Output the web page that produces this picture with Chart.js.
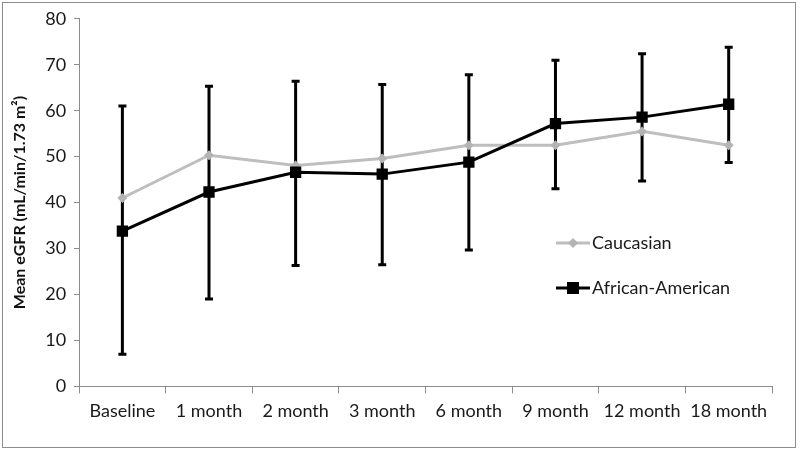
<!DOCTYPE html>
<html>
<head>
<meta charset="utf-8">
<script src="https://cdn.jsdelivr.net/npm/chart.js@4/dist/chart.umd.min.js"></script>
<style>
  html, body { margin: 0; padding: 0; background: #fff; }
  #wrap { position: relative; width: 800px; height: 453px; }
  #frame { position: absolute; left: 2px; top: 2px; width: 794px; height: 446px; border: 1px solid #8c8c8c; box-sizing: border-box; pointer-events: none; }
</style>
</head>
<body>
<div id="wrap">
  <canvas id="chart" width="800" height="453"></canvas>
  <div id="frame"></div>
</div>
<script>
const categories = ["Baseline", "1 month", "2 month", "3 month", "6 month", "9 month", "12 month", "18 month"];
const caucasian = [41.0, 50.3, 48.1, 49.6, 52.5, 52.5, 55.5, 52.5];
const africanAmerican = [33.8, 42.3, 46.6, 46.2, 48.8, 57.2, 58.6, 61.4];
const aaLow = [7.0, 19.0, 26.3, 26.5, 29.7, 43.0, 44.7, 48.7];
const aaHigh = [61.0, 65.3, 66.4, 65.7, 67.8, 71.0, 72.4, 73.8];

const FONT = "Lato, 'Open Sans', sans-serif";

// error bars for the African-American series, drawn under the lines
const errorBars = {
  id: 'errorBars',
  beforeDatasetsDraw(chart) {
    const ctx = chart.ctx, x = chart.scales.x, y = chart.scales.y;
    ctx.save();
    ctx.strokeStyle = '#000';
    ctx.lineWidth = 3;
    categories.forEach((c, i) => {
      const px = x.getPixelForValue(i);
      const top = y.getPixelForValue(aaHigh[i]);
      const bot = y.getPixelForValue(aaLow[i]);
      ctx.beginPath();
      ctx.moveTo(px, top); ctx.lineTo(px, bot);
      ctx.moveTo(px - 4, top); ctx.lineTo(px + 4, top);
      ctx.moveTo(px - 4, bot); ctx.lineTo(px + 4, bot);
      ctx.stroke();
    });
    ctx.restore();
  }
};

// legend inside the plot, like the original
const innerLegend = {
  id: 'innerLegend',
  afterDraw(chart) {
    const ctx = chart.ctx;
    ctx.save();
    ctx.font = "18px " + FONT;
    ctx.textBaseline = 'middle';
    // Caucasian
    ctx.strokeStyle = '#bebebe'; ctx.lineWidth = 3;
    ctx.beginPath(); ctx.moveTo(556, 243); ctx.lineTo(590, 243); ctx.stroke();
    ctx.fillStyle = '#b4b4b4';
    ctx.beginPath(); ctx.moveTo(573, 238); ctx.lineTo(578, 243); ctx.lineTo(573, 248); ctx.lineTo(568, 243); ctx.closePath(); ctx.fill();
    ctx.fillStyle = '#1a1a1a';
    ctx.fillText('Caucasian', 592, 243);
    // African-American
    ctx.strokeStyle = '#000';
    ctx.beginPath(); ctx.moveTo(556, 288); ctx.lineTo(590, 288); ctx.stroke();
    ctx.fillStyle = '#000';
    ctx.fillRect(567, 282, 12, 12);
    ctx.fillStyle = '#1a1a1a';
    ctx.fillText('African-American', 592, 288);
    ctx.restore();
  }
};

new Chart(document.getElementById('chart'), {
  type: 'line',
  data: {
    labels: categories,
    datasets: [
      {
        label: 'Caucasian',
        data: caucasian,
        borderColor: '#bebebe',
        backgroundColor: '#b4b4b4',
        borderWidth: 3,
        pointStyle: 'rectRot',
        pointRadius: 5,
        pointBorderWidth: 0,
        order: 1
      },
      {
        label: 'African-American',
        data: africanAmerican,
        borderColor: '#000',
        backgroundColor: '#000',
        borderWidth: 3,
        pointStyle: 'rect',
        pointRadius: 8,
        pointBorderWidth: 0,
        order: 0
      }
    ]
  },
  plugins: [errorBars, innerLegend],
  options: {
    responsive: false,
    animation: false,
    layout: { padding: { left: 10, right: 28, top: 9, bottom: 24 } },
    plugins: {
      legend: { display: false },
      tooltip: { enabled: false }
    },
    scales: {
      x: {
        offset: true,
        grid: { display: true, drawOnChartArea: false, offset: true, color: '#8c8c8c', tickLength: 7, lineWidth: 1 },
        border: { color: '#8c8c8c' },
        ticks: { color: '#1a1a1a', font: { family: FONT, size: 18 }, maxRotation: 0, padding: 7 }
      },
      y: {
        min: 0,
        max: 80,
        ticks: { stepSize: 10, color: '#1a1a1a', font: { family: FONT, size: 18 }, padding: 8 },
        grid: { display: true, drawOnChartArea: false, color: '#8c8c8c', tickLength: 5 },
        border: { color: '#8c8c8c' },
        title: {
          display: true,
          text: 'Mean eGFR (mL/min/1.73 m²)',
          color: '#111',
          font: { family: FONT, size: 16, weight: 'bold' },
          padding: { top: 0, bottom: 8 }
        }
      }
    }
  }
});
</script>
</body>
</html>
